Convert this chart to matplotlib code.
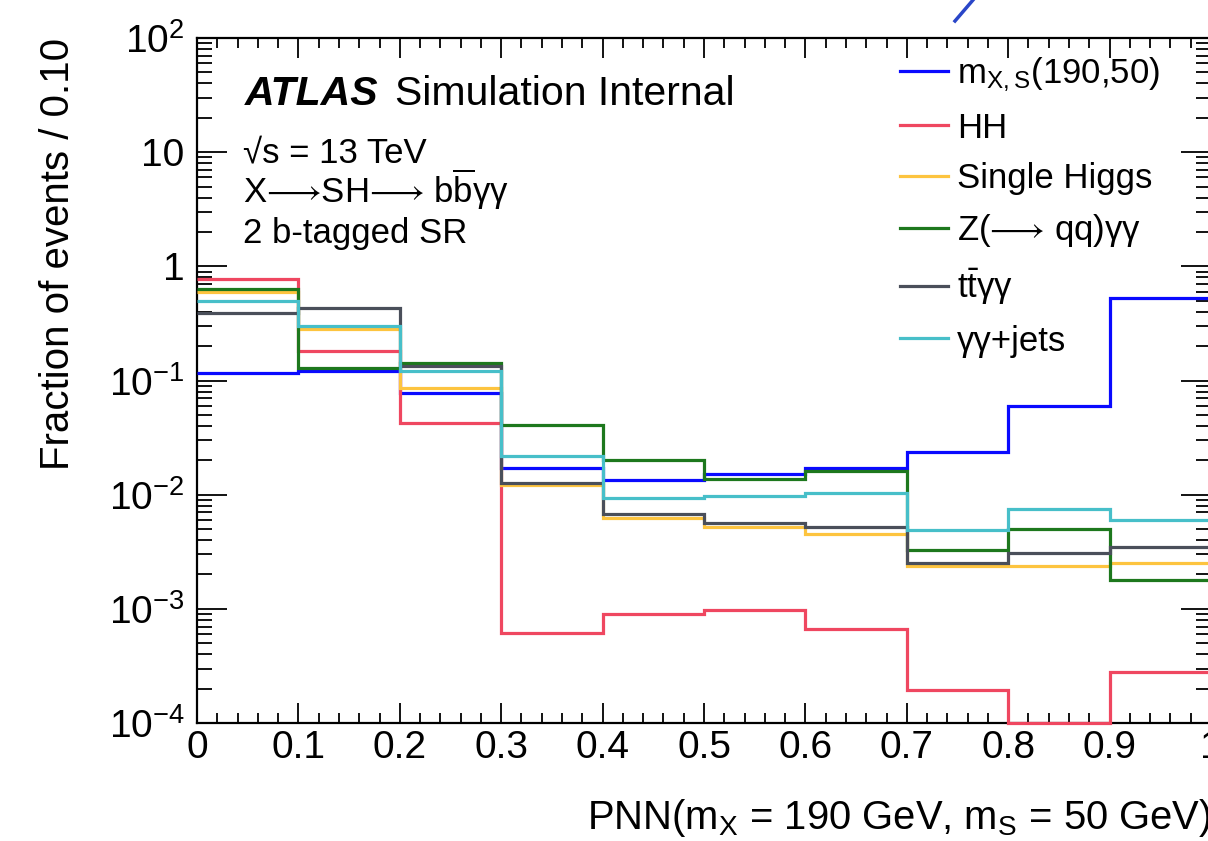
import numpy as np
import matplotlib
matplotlib.use("Agg")
import matplotlib.pyplot as plt
from matplotlib.ticker import MultipleLocator, LogLocator, FuncFormatter, NullFormatter
from matplotlib.lines import Line2D

plt.rcParams['font.family'] = ['Liberation Sans', 'DejaVu Sans']
plt.rcParams['mathtext.fontset'] = 'custom'
plt.rcParams['mathtext.rm'] = 'Liberation Sans'
plt.rcParams['mathtext.it'] = 'Liberation Sans:italic'
plt.rcParams['mathtext.bf'] = 'Liberation Sans:bold'
plt.rcParams['mathtext.default'] = 'regular'
plt.rcParams['mathtext.fallback'] = 'stixsans'

# bin edges of the PNN score
edges = np.round(np.arange(0, 1.01, 0.1), 2)

# fraction of events per bin
signal   = [0.117, 0.121, 0.078, 0.0171, 0.0135, 0.0152, 0.0171, 0.0237, 0.060, 0.53]
hh       = [0.78, 0.18, 0.0425, 6.1e-4, 9.0e-4, 9.8e-4, 6.65e-4, 1.94e-4, 1.0e-4, 2.8e-4]
single_h = [0.60, 0.283, 0.086, 0.0122, 0.00625, 0.0052, 0.0045, 0.00237, 0.00237, 0.0025]
zqq      = [0.635, 0.129, 0.143, 0.041, 0.0201, 0.0137, 0.0161, 0.0033, 0.0050, 0.0018]
ttyy     = [0.39, 0.43, 0.134, 0.0127, 0.0068, 0.00565, 0.0052, 0.0025, 0.0031, 0.0035]
yyjets   = [0.50, 0.30, 0.121, 0.0218, 0.0094, 0.0097, 0.0104, 0.0049, 0.0075, 0.006]

labels = [r'm$_{\mathrm{X,S}}$(190,50)', 'HH', 'Single Higgs',
          r'Z($⟶$ qq)γγ', r't$\bar{\mathrm{t}}$γγ', 'γγ+jets']
colors = ['#0a0aff', '#ef4760', '#fdc43f', '#1d781d', '#4a4f5a', '#47bfc9']
series = [signal, hh, single_h, zqq, ttyy, yyjets]

fig = plt.figure(figsize=(12.08, 8.41), dpi=100)
ax = fig.add_axes([197/1208, 118/841, 1014/1208, 685/841])

handles = []
for vals, col, lab in zip(series, colors, labels):
    ax.stairs(vals, edges, baseline=None, color=col, lw=2.3, label=lab,
              clip_on=False, zorder=3)
    handles.append(Line2D([], [], color=col, lw=2.3))

ax.set_yscale('log')
ax.set_xlim(0, 1)
ax.set_ylim(1e-4, 1e2)

ax.xaxis.set_major_locator(MultipleLocator(0.1))
ax.xaxis.set_minor_locator(MultipleLocator(0.02))
ax.yaxis.set_major_locator(LogLocator(base=10, numticks=20))
ax.yaxis.set_minor_locator(LogLocator(base=10, subs=np.arange(2, 10), numticks=20))
ax.yaxis.set_minor_formatter(NullFormatter())

def xfmt(v, pos):
    if abs(v) < 1e-9:
        return '0'
    if abs(v - 1) < 1e-9:
        return '1'
    return '%.1f' % v

def yfmt(v, pos):
    e = int(round(np.log10(v)))
    if e == 0:
        return '1'
    if e == 1:
        return '10'
    return r'10$^{%d}$' % e

ax.xaxis.set_major_formatter(FuncFormatter(xfmt))
ax.yaxis.set_major_formatter(FuncFormatter(yfmt))

ax.tick_params(which='both', direction='in', top=True, right=True, width=1.3,
               labelsize=28, color='black')
ax.tick_params(axis='x', which='major', length=14.4, pad=5)
ax.tick_params(axis='x', which='minor', length=7.2)
ax.tick_params(axis='y', which='major', length=21.6, pad=9)
ax.tick_params(axis='y', which='minor', length=10.8)
for s in ax.spines.values():
    s.set_linewidth(1.6)

ax.set_ylabel('Fraction of events / 0.10', fontsize=29, loc='top')
ax.yaxis.set_label_coords(-0.118, 1.0)
ax.set_xlabel(r'PNN(m$_{\mathrm{X}}$ = 190 GeV, m$_{\mathrm{S}}$ = 50 GeV)', fontsize=28.8, loc='right')
ax.xaxis.set_label_coords(1.0, -0.108)

# ATLAS label block
ax.text(0.0473, 0.902, 'ATLAS', transform=ax.transAxes, fontsize=29.5,
        fontweight='bold', fontstyle='italic', va='baseline')
ax.text(0.195, 0.902, 'Simulation Internal', transform=ax.transAxes, fontsize=29.5,
        va='baseline')
ax.text(0.0455, 0.819, '√s = 13 TeV', transform=ax.transAxes,
        fontsize=25, va='baseline')
ax.text(0.0455, 0.759, r'X$⟶$SH$⟶$ b$\overline{\mathrm{b}}$γγ',
        transform=ax.transAxes, fontsize=25, va='baseline')
ax.text(0.0455, 0.701, '2 b-tagged SR', transform=ax.transAxes, fontsize=25,
        va='baseline')

ax.legend(handles, labels, loc='upper left',
          bbox_to_anchor=(900/1208, 1 - 56/841), bbox_transform=fig.transFigure,
          frameon=False, fontsize=25, handlelength=1.38, handletextpad=0.26,
          labelspacing=0.5, borderpad=0, borderaxespad=0)

# stray pen stroke at the top of the screenshot
fig.add_artist(Line2D([955/1208, 973/1208], [1 - 21/841, 1.0], color='#2a46c8', lw=2.5))

fig.savefig('out.png', dpi=100)
